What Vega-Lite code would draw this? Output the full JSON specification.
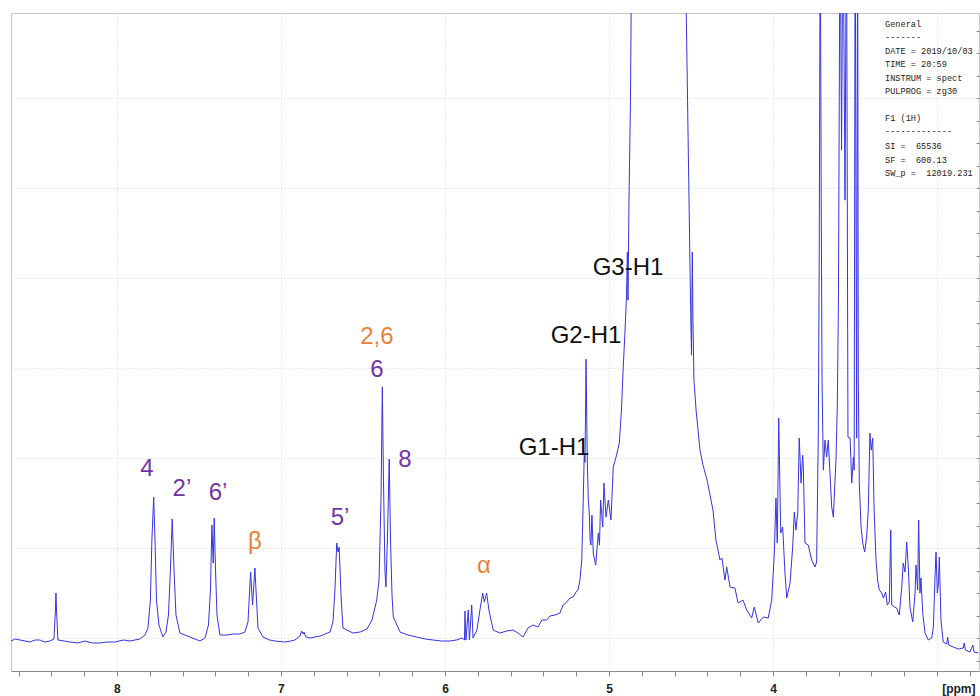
{
  "$schema": "https://vega.github.io/schema/vega-lite/v6.json",
  "width": 968,
  "height": 658,
  "autosize": {"type": "none"},
  "padding": {"left": 11, "top": 13, "right": 1, "bottom": 25},
  "background": "white",
  "config": {
    "view": {"stroke": "#c8c8c8", "strokeWidth": 1},
    "font": "Liberation Sans"
  },
  "datasets": {
    "spectrum": [
      {"ppm":8.646,"i":-3},{"ppm":8.620,"i":-1},{"ppm":8.591,"i":-2},{"ppm":8.560,"i":-3},{"ppm":8.530,"i":-4},{"ppm":8.500,"i":-2},{"ppm":8.470,"i":-2},{"ppm":8.440,"i":-4},{"ppm":8.409,"i":-3},
      {"ppm":8.384,"i":-1},{"ppm":8.375,"i":28},{"ppm":8.372,"i":45},{"ppm":8.368,"i":26},{"ppm":8.360,"i":-2},
      {"ppm":8.320,"i":-3},{"ppm":8.287,"i":-4},{"ppm":8.240,"i":-5},{"ppm":8.195,"i":-3},{"ppm":8.150,"i":-5},{"ppm":8.104,"i":-5},{"ppm":8.060,"i":-4},{"ppm":8.012,"i":-4},{"ppm":7.960,"i":-2},{"ppm":7.921,"i":-3},
      {"ppm":7.860,"i":-1},{"ppm":7.829,"i":3},{"ppm":7.811,"i":10},{"ppm":7.796,"i":38},{"ppm":7.787,"i":98},
      {"ppm":7.776,"i":141},{"ppm":7.768,"i":98},{"ppm":7.759,"i":38},{"ppm":7.744,"i":13},{"ppm":7.720,"i":1},
      {"ppm":7.701,"i":6},{"ppm":7.686,"i":23},{"ppm":7.674,"i":68},{"ppm":7.663,"i":119},{"ppm":7.652,"i":68},
      {"ppm":7.640,"i":23},{"ppm":7.616,"i":5},{"ppm":7.555,"i":1},{"ppm":7.494,"i":-3},{"ppm":7.463,"i":0},
      {"ppm":7.442,"i":13},{"ppm":7.430,"i":48},{"ppm":7.421,"i":113},{"ppm":7.413,"i":75},{"ppm":7.407,"i":120},
      {"ppm":7.399,"i":68},{"ppm":7.390,"i":23},{"ppm":7.372,"i":3},{"ppm":7.329,"i":3},{"ppm":7.293,"i":4},
      {"ppm":7.250,"i":4},{"ppm":7.220,"i":6},{"ppm":7.201,"i":16},{"ppm":7.185,"i":66},{"ppm":7.173,"i":33},
      {"ppm":7.159,"i":70},{"ppm":7.149,"i":38},{"ppm":7.140,"i":10},{"ppm":7.110,"i":1},{"ppm":7.070,"i":-2},{"ppm":7.037,"i":-3},
      {"ppm":6.976,"i":-4},{"ppm":6.940,"i":-3},{"ppm":6.915,"i":-2},{"ppm":6.884,"i":2},{"ppm":6.874,"i":7},{"ppm":6.866,"i":4},
      {"ppm":6.860,"i":6},{"ppm":6.848,"i":1},{"ppm":6.823,"i":0},{"ppm":6.762,"i":2},{"ppm":6.701,"i":6},
      {"ppm":6.683,"i":16},{"ppm":6.671,"i":48},{"ppm":6.660,"i":95},{"ppm":6.652,"i":86},{"ppm":6.645,"i":91},
      {"ppm":6.634,"i":43},{"ppm":6.622,"i":10},{"ppm":6.561,"i":5},{"ppm":6.518,"i":6},{"ppm":6.476,"i":9},
      {"ppm":6.445,"i":18},{"ppm":6.416,"i":38},{"ppm":6.402,"i":58},{"ppm":6.390,"i":138},{"ppm":6.382,"i":251},
      {"ppm":6.375,"i":158},{"ppm":6.366,"i":68},{"ppm":6.360,"i":51},{"ppm":6.351,"i":98},{"ppm":6.340,"i":179},
      {"ppm":6.332,"i":98},{"ppm":6.323,"i":43},{"ppm":6.315,"i":21},{"ppm":6.274,"i":6},{"ppm":6.226,"i":3},
      {"ppm":6.173,"i":1},{"ppm":6.120,"i":-1},{"ppm":6.073,"i":-2},{"ppm":6.020,"i":-3},{"ppm":5.970,"i":-3},{"ppm":5.930,"i":-2},{"ppm":5.896,"i":0},{"ppm":5.881,"i":-2},
      {"ppm":5.878,"i":27},{"ppm":5.872,"i":-2},{"ppm":5.858,"i":28},{"ppm":5.851,"i":-2},{"ppm":5.837,"i":33},
      {"ppm":5.829,"i":0},{"ppm":5.805,"i":8},{"ppm":5.787,"i":28},{"ppm":5.770,"i":45},{"ppm":5.760,"i":36},
      {"ppm":5.746,"i":45},{"ppm":5.732,"i":28},{"ppm":5.706,"i":8},{"ppm":5.665,"i":5},{"ppm":5.624,"i":7},
      {"ppm":5.585,"i":8},{"ppm":5.555,"i":5},{"ppm":5.524,"i":1},{"ppm":5.494,"i":10},{"ppm":5.463,"i":13},
      {"ppm":5.433,"i":11},{"ppm":5.409,"i":18},{"ppm":5.380,"i":18},{"ppm":5.360,"i":22},{"ppm":5.329,"i":23},
      {"ppm":5.299,"i":25},{"ppm":5.280,"i":33},{"ppm":5.258,"i":36},{"ppm":5.238,"i":40},{"ppm":5.219,"i":41},
      {"ppm":5.201,"i":46},{"ppm":5.189,"i":48},{"ppm":5.177,"i":58},{"ppm":5.166,"i":78},{"ppm":5.157,"i":138},
      {"ppm":5.151,"i":183},{"ppm":5.146,"i":176},{"ppm":5.140,"i":279},{"ppm":5.132,"i":175},{"ppm":5.126,"i":138},
      {"ppm":5.120,"i":125},{"ppm":5.115,"i":98},{"ppm":5.110,"i":93},{"ppm":5.104,"i":123},{"ppm":5.096,"i":85},
      {"ppm":5.081,"i":73},{"ppm":5.065,"i":105},{"ppm":5.058,"i":93},{"ppm":5.051,"i":138},{"ppm":5.038,"i":111},
      {"ppm":5.031,"i":155},{"ppm":5.018,"i":121},{"ppm":5.004,"i":138},{"ppm":4.988,"i":118},{"ppm":4.974,"i":171},
      {"ppm":4.957,"i":181},{"ppm":4.937,"i":195},{"ppm":4.924,"i":228},{"ppm":4.913,"i":271},{"ppm":4.902,"i":308},
      {"ppm":4.893,"i":343},{"ppm":4.888,"i":386},{"ppm":4.884,"i":338},{"ppm":4.878,"i":438},{"ppm":4.869,"i":538},
      {"ppm":4.860,"i":738},{"ppm":4.847,"i":1038},{"ppm":4.689,"i":3638},{"ppm":4.543,"i":1038},{"ppm":4.530,"i":638},
      {"ppm":4.521,"i":538},{"ppm":4.512,"i":438},{"ppm":4.503,"i":338},{"ppm":4.497,"i":283},{"ppm":4.492,"i":386},
      {"ppm":4.488,"i":318},{"ppm":4.482,"i":258},{"ppm":4.469,"i":228},{"ppm":4.445,"i":188},{"ppm":4.427,"i":173},
      {"ppm":4.402,"i":158},{"ppm":4.384,"i":143},{"ppm":4.366,"i":128},{"ppm":4.348,"i":98},{"ppm":4.323,"i":78},
      {"ppm":4.311,"i":80},{"ppm":4.293,"i":58},{"ppm":4.282,"i":71},{"ppm":4.262,"i":51},{"ppm":4.232,"i":50},
      {"ppm":4.213,"i":35},{"ppm":4.183,"i":38},{"ppm":4.160,"i":28},{"ppm":4.130,"i":20},{"ppm":4.114,"i":31},
      {"ppm":4.090,"i":15},{"ppm":4.059,"i":21},{"ppm":4.029,"i":20},{"ppm":4.008,"i":38},{"ppm":3.992,"i":85},
      {"ppm":3.982,"i":140},{"ppm":3.974,"i":95},{"ppm":3.965,"i":220},{"ppm":3.953,"i":105},{"ppm":3.941,"i":111},
      {"ppm":3.927,"i":65},{"ppm":3.916,"i":40},{"ppm":3.896,"i":55},{"ppm":3.880,"i":91},{"ppm":3.870,"i":126},
      {"ppm":3.860,"i":108},{"ppm":3.849,"i":126},{"ppm":3.840,"i":200},{"ppm":3.829,"i":155},{"ppm":3.819,"i":183},
      {"ppm":3.815,"i":170},{"ppm":3.805,"i":95},{"ppm":3.785,"i":93},{"ppm":3.764,"i":78},{"ppm":3.744,"i":71},
      {"ppm":3.734,"i":76},{"ppm":3.724,"i":201},{"ppm":3.718,"i":388},{"ppm":3.712,"i":738},{"ppm":3.706,"i":438},
      {"ppm":3.701,"i":258},{"ppm":3.693,"i":168},{"ppm":3.683,"i":198},{"ppm":3.673,"i":181},{"ppm":3.663,"i":198},
      {"ppm":3.642,"i":131},{"ppm":3.632,"i":121},{"ppm":3.622,"i":158},{"ppm":3.616,"i":178},{"ppm":3.608,"i":231},
      {"ppm":3.601,"i":338},{"ppm":3.591,"i":738},{"ppm":3.582,"i":488},{"ppm":3.573,"i":738},{"ppm":3.561,"i":438},
      {"ppm":3.552,"i":738},{"ppm":3.543,"i":201},{"ppm":3.530,"i":200},{"ppm":3.520,"i":155},{"ppm":3.510,"i":181},
      {"ppm":3.505,"i":168},{"ppm":3.499,"i":738},{"ppm":3.490,"i":200},{"ppm":3.484,"i":738},{"ppm":3.480,"i":261},
      {"ppm":3.474,"i":155},{"ppm":3.463,"i":111},{"ppm":3.453,"i":95},{"ppm":3.441,"i":86},{"ppm":3.429,"i":101},
      {"ppm":3.419,"i":128},{"ppm":3.409,"i":205},{"ppm":3.401,"i":188},{"ppm":3.392,"i":200},{"ppm":3.384,"i":131},
      {"ppm":3.372,"i":78},{"ppm":3.362,"i":58},{"ppm":3.352,"i":48},{"ppm":3.337,"i":45},{"ppm":3.327,"i":40},
      {"ppm":3.313,"i":46},{"ppm":3.303,"i":33},{"ppm":3.291,"i":36},{"ppm":3.282,"i":108},{"ppm":3.276,"i":33},
      {"ppm":3.260,"i":31},{"ppm":3.246,"i":30},{"ppm":3.230,"i":23},{"ppm":3.215,"i":51},{"ppm":3.206,"i":75},
      {"ppm":3.195,"i":66},{"ppm":3.185,"i":96},{"ppm":3.175,"i":71},{"ppm":3.165,"i":31},{"ppm":3.148,"i":16},
      {"ppm":3.134,"i":45},{"ppm":3.128,"i":73},{"ppm":3.118,"i":48},{"ppm":3.112,"i":118},{"ppm":3.104,"i":45},
      {"ppm":3.098,"i":60},{"ppm":3.087,"i":25},{"ppm":3.073,"i":5},{"ppm":3.053,"i":-2},{"ppm":3.032,"i":0},
      {"ppm":3.022,"i":11},{"ppm":3.012,"i":61},{"ppm":3.006,"i":86},{"ppm":2.998,"i":45},{"ppm":2.992,"i":53},
      {"ppm":2.986,"i":81},{"ppm":2.976,"i":18},{"ppm":2.962,"i":-4},{"ppm":2.941,"i":-6},{"ppm":2.935,"i":1},
      {"ppm":2.929,"i":-7},{"ppm":2.901,"i":-9},{"ppm":2.870,"i":-11},{"ppm":2.840,"i":-10},{"ppm":2.834,"i":-5},
      {"ppm":2.827,"i":-12},{"ppm":2.799,"i":-14},{"ppm":2.782,"i":-7},{"ppm":2.774,"i":-14},{"ppm":2.748,"i":-15}
    ],
    "labels": [
      {"text":"4","ppm":7.817,"i":169,"moiety":"flavonoid"},
      {"text":"2’","ppm":7.604,"i":149,"moiety":"flavonoid"},
      {"text":"6’","ppm":7.384,"i":145,"moiety":"flavonoid"},
      {"text":"β","ppm":7.159,"i":96,"moiety":"propenoyl"},
      {"text":"5’","ppm":6.640,"i":120,"moiety":"flavonoid"},
      {"text":"2,6","ppm":6.415,"i":301,"moiety":"propenoyl"},
      {"text":"6","ppm":6.415,"i":268,"moiety":"flavonoid"},
      {"text":"8","ppm":6.244,"i":178,"moiety":"flavonoid"},
      {"text":"α","ppm":5.762,"i":72,"moiety":"propenoyl"},
      {"text":"G1-H1","ppm":5.335,"i":190,"moiety":"glucose"},
      {"text":"G2-H1","ppm":5.140,"i":302,"moiety":"glucose"},
      {"text":"G3-H1","ppm":4.884,"i":370,"moiety":"glucose"}
    ],
    "info": [
      {"line":"General","ppm":3.317,"i":614},
      {"line":"-------","ppm":3.317,"i":601},
      {"line":"DATE = 2019/10/03","ppm":3.317,"i":587},
      {"line":"TIME = 20:59","ppm":3.317,"i":574},
      {"line":"INSTRUM = spect","ppm":3.317,"i":560},
      {"line":"PULPROG = zg30","ppm":3.317,"i":547},
      {"line":"F1 (1H)","ppm":3.317,"i":520},
      {"line":"-------------","ppm":3.317,"i":507},
      {"line":"SI =\u00a0\u00a065536","ppm":3.317,"i":492},
      {"line":"SF =\u00a0\u00a0600.13","ppm":3.317,"i":478},
      {"line":"SW_p =\u00a0\u00a012019.231","ppm":3.317,"i":465}
    ]
  },
  "encoding": {
    "x": {
      "field": "ppm", "type": "quantitative",
      "scale": {"domain": [2.744, 8.646], "reverse": true, "nice": false, "zero": false},
      "axis": {
        "orient": "bottom",
        "values": [2.8,3,3.2,3.4,3.6,3.8,4,4.2,4.4,4.6,4.8,5,5.2,5.4,5.6,5.8,6,6.2,6.4,6.6,6.8,7,7.2,7.4,7.6,7.8,8,8.2,8.4,8.6],
        "labelExpr": "(datum.value % 1 === 0 && datum.value > 3.5) ? format(datum.value, 'd') : ''",
        "labelFont": "Liberation Sans", "labelFontSize": 12, "labelFontWeight": "bold", "labelColor": "#222",
        "labelPadding": 7, "labelOverlap": false,
        "tickSize": 5, "tickColor": "#8a8a8a", "domainColor": "#8a8a8a",
        "grid": true, "gridColor": "#d8d8d8", "gridDash": [1, 2],
        "gridOpacity": {"condition": {"test": "datum.value % 1 === 0", "value": 1}, "value": 0},
        "title": "[ppm]", "titleFont": "Liberation Sans", "titleFontSize": 12, "titleFontWeight": "bold", "titleColor": "#222",
        "titleAnchor": "end", "titleAlign": "right", "titleX": 964, "titleY": 21, "titleBaseline": "alphabetic"
      }
    },
    "y": {
      "field": "i", "type": "quantitative",
      "scale": {"domain": [-33, 625.3], "nice": false, "zero": false},
      "axis": {
        "orient": "right",
        "values": [-22.5,0,22.5,45,67.5,90,112.5,135,157.5,180,202.5,225,247.5,270,292.5,315,337.5,360,382.5,405,427.5,450,472.5,495,517.5,540,562.5,585,607.5],
        "labels": false, "domain": false, "title": null,
        "tickSize": -3, "tickColor": "#8a8a8a",
        "grid": true, "gridColor": "#d8d8d8", "gridDash": [1, 2],
        "gridOpacity": {"condition": {"test": "datum.value % 90 === 0", "value": 1}, "value": 0}
      }
    }
  },
  "layer": [
    {
      "data": {"name": "spectrum"},
      "mark": {"type": "line", "clip": true, "stroke": "#3434e0", "strokeWidth": 1, "interpolate": "linear"}
    },
    {
      "data": {"name": "labels"},
      "mark": {"type": "text", "font": "Liberation Sans", "fontSize": 24, "align": "center", "baseline": "middle"},
      "encoding": {
        "text": {"field": "text"},
        "color": {"field": "moiety", "type": "nominal",
          "scale": {"domain": ["flavonoid", "propenoyl", "glucose"], "range": ["#7434a6", "#ec8136", "#111111"]},
          "legend": null}
      }
    },
    {
      "data": {"name": "info"},
      "mark": {"type": "text", "font": "Liberation Mono", "fontSize": 8.6, "align": "left", "baseline": "middle", "color": "#222222"},
      "encoding": {"text": {"field": "line"}}
    }
  ]
}
